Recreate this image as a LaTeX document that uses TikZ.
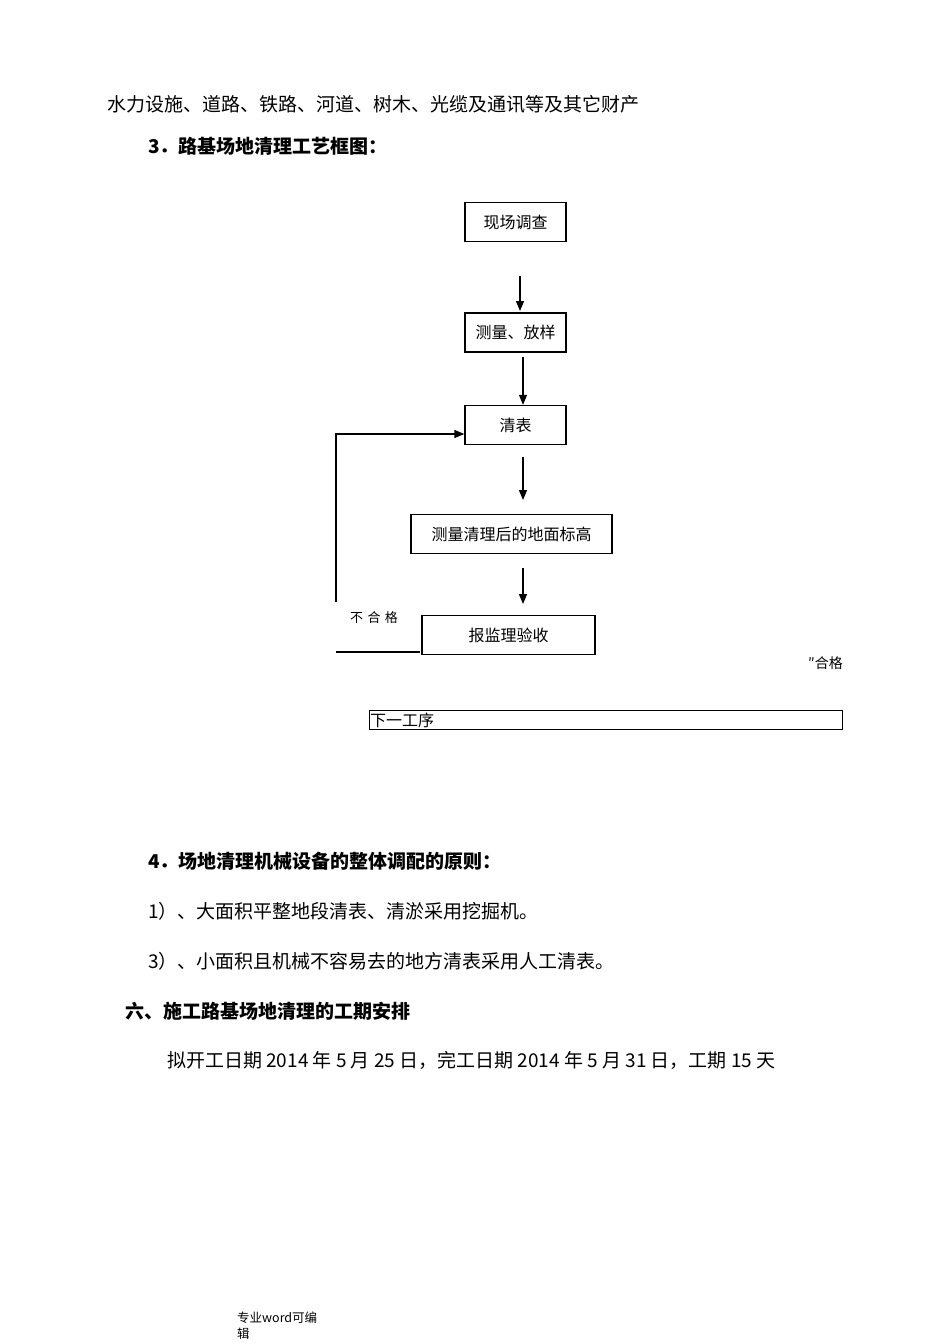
\documentclass[tikz,border=0pt]{standalone}
\usepackage{fontspec}
\setmainfont{Noto Sans CJK SC}
\usetikzlibrary{arrows.meta}
\begin{document}
\begin{tikzpicture}[x=1pt,y=-1pt,
  txt/.style={anchor=west,inner sep=0pt,font=\fontsize{19}{22}\selectfont},
  btxt/.style={anchor=west,inner sep=0pt,font=\fontsize{19}{22}\selectfont\bfseries},
  box/.style={draw,line width=1.3pt,minimum height=39pt,inner sep=0pt,font=\fontsize{16}{19}\selectfont},
  arr/.style={-{Triangle[length=10pt,width=8pt]},line width=1.3pt}]
\useasboundingbox (0,0) rectangle (950,1344);
\fill[white] (0,0) rectangle (950,1344);
\node[txt] (t1) at (107,104) {水力设施、道路、铁路、河道、树木、光缆及通讯等及其它财产};
\node[btxt] (t2) at (148,146) {3．路基场地清理工艺框图：};
\node[box,minimum width=101pt] (a) at (515.5,222) {现场调查};
\node[box,minimum width=101pt] (b) at (515.5,332.5) {测量、放样};
\node[box,minimum width=101pt] (c) at (515.5,425) {清表};
\node[box,minimum width=201pt] (d) at (511.5,534) {测量清理后的地面标高};
\node[box,minimum width=173pt] (e) at (508.5,635) {报监理验收};
\node[draw,line width=0.8pt,minimum width=473pt,minimum height=19pt,inner sep=0pt] (f) at (605.5,719.5) {};
\node[anchor=west,inner sep=0pt,font=\fontsize{16}{18}\selectfont] (ft) at (370,720) {下一工序};
\coordinate (a1) at (520,276); \coordinate (a2) at (520,311);
\draw[arr] (a1) -- (a2);
\coordinate (b1) at (523,357); \draw[arr] (b1) -- (b1|-c.north);
\coordinate (c1) at (523,457); \coordinate (c2) at (523,500); \draw[arr] (c1) -- (c2);
\coordinate (d1) at (523,568); \coordinate (d2) at (523,604); \draw[arr] (d1) -- (d2);
\coordinate (l1) at (336,602); \coordinate (l2) at (336,434);
\draw[arr] (l1) -- (l2) -- (l2-|c.west);
\coordinate (m1) at (336,652); \coordinate (m2) at (420,652);
\draw[line width=1.3pt] (m1) -- (m2);
\node[anchor=west,inner sep=0pt,font=\fontsize{13}{15}\selectfont] (ng) at (350,618) {不\,\,合\,\,格};
\node[anchor=west,inner sep=0pt,font=\fontsize{14}{16}\selectfont] (ok) at (808,663) {″合格};
\node[btxt] (t3) at (148,861) {4．场地清理机械设备的整体调配的原则：};
\node[txt] (t4) at (148,911) {1）、大面积平整地段清表、清淤采用挖掘机。};
\node[txt] (t5) at (148,961) {3）、小面积且机械不容易去的地方清表采用人工清表。};
\node[btxt] (t6) at (125,1011) {六、施工路基场地清理的工期安排};
\node[txt] (t7) at (167,1060) {拟开工日期 2014 年 5 月 25 日，完工日期 2014 年 5 月 31 日，工期 15 天};
\node[anchor=west,inner sep=0pt,font=\fontsize{12.5}{14}\selectfont] (p1) at (237,1318) {专业word可编};
\node[anchor=west,inner sep=0pt,font=\fontsize{12.5}{14}\selectfont] (p2) at (237,1334) {辑};
\end{tikzpicture}
\end{document}
